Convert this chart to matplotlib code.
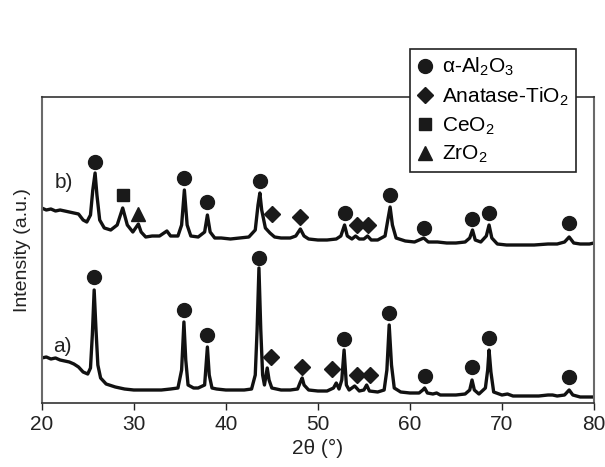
import matplotlib
matplotlib.use("Agg")
import matplotlib.pyplot as plt
from matplotlib.lines import Line2D

plt.rcParams['font.family'] = ['Liberation Sans', 'DejaVu Sans']
plt.rcParams['mathtext.fontset'] = 'custom'
plt.rcParams['mathtext.rm'] = 'Liberation Sans'
plt.rcParams['mathtext.it'] = 'Liberation Sans:italic'
plt.rcParams['mathtext.default'] = 'regular'

# 2θ / intensity (a.u., b) already offset upwards)
two_theta_a = [20.0, 20.5, 21.0, 21.5, 22.0, 22.5, 23.0, 23.5, 24.0, 24.5, 25.0, 25.3, 25.5, 25.7, 25.9,
               26.1, 26.4, 27.0, 28.0, 29.0, 30.0, 31.0, 32.0, 33.0, 34.0, 34.8, 35.2, 35.45, 35.65,
               35.9, 36.5, 37.0, 37.7, 38.0, 38.2, 38.5, 39.0, 40.0, 41.0, 42.0, 42.8, 43.2, 43.4,
               43.6, 43.8, 44.0, 44.2, 44.5, 44.7, 45.0, 46.0, 47.0, 47.8, 48.1, 48.3, 48.5, 49.0,
               50.0, 51.0, 51.7, 52.0, 52.3, 52.6, 52.85, 53.1, 53.4, 54.0, 54.2, 54.5, 55.0, 55.3,
               55.6, 56.5, 57.2, 57.5, 57.75, 58.0, 58.3, 59.0, 60.0, 61.0, 61.4, 61.6, 61.9, 62.5,
               62.9, 63.3, 64.0, 65.0, 66.0, 66.5, 66.75, 67.0, 67.5, 68.2, 68.45, 68.6, 68.8, 69.1,
               70.0, 70.6, 71.2, 72.0, 73.0, 74.0, 75.0, 75.5, 76.0, 76.8, 77.3, 77.7, 78.5, 79.0, 80.0]
intensity_a = [45, 46, 44, 45, 43, 42, 41, 39, 36, 31, 29, 35, 68, 113, 73,
               38, 25, 19, 16, 14, 13, 13, 13, 13, 14, 15, 33, 81, 43,
               18, 15, 15, 18, 56, 28, 15, 14, 13, 13, 13, 14, 28, 73,
               135, 73, 28, 18, 35, 23, 15, 13, 13, 14, 21, 25, 18, 13,
               12, 12, 15, 20, 14, 23, 53, 18, 13, 17, 15, 12, 13, 18,
               12, 11, 13, 33, 78, 38, 15, 11, 10, 10, 13, 15, 10, 9,
               10, 8, 8, 8, 9, 13, 23, 13, 9, 15, 33, 53, 31, 11,
               8, 9, 7, 7, 7, 7, 8, 8, 7, 8, 13, 8, 6, 6, 6]

two_theta_b = [20.0, 20.5, 21.0, 21.5, 22.0, 22.5, 23.0, 23.5, 24.0, 24.5, 24.9, 25.3, 25.55, 25.8,
               26.0, 26.3, 26.8, 27.5, 28.2, 28.8, 29.3, 29.9, 30.2, 30.5, 30.8, 31.3, 32.0, 32.8,
               33.6, 34.0, 34.8, 35.2, 35.5, 35.8, 36.2, 37.0, 37.7, 38.0, 38.3, 38.8, 39.5, 40.5,
               41.5, 42.5, 43.2, 43.5, 43.7, 43.9, 44.3, 44.8, 45.3, 46.0, 47.0, 47.6, 48.1, 48.5,
               49.0, 50.0, 51.0, 52.0, 52.5, 52.9, 53.2, 53.7, 54.1, 54.5, 55.0, 55.4, 55.8, 56.5,
               57.3, 57.6, 57.85, 58.1, 58.5, 59.5, 60.5, 61.5, 62.0, 63.0, 64.0, 65.0, 66.0, 66.5,
               66.8, 67.1, 67.7, 68.3, 68.6, 68.9, 69.5, 70.5, 72.0, 73.5, 75.0, 76.0, 76.8, 77.3,
               77.8, 78.5, 79.5, 80.0]
intensity_b = [195, 193, 194, 192, 193, 192, 191, 190, 189, 183, 181, 188, 213, 230,
               208, 183, 175, 173, 178, 195, 178, 171, 175, 179, 171, 166, 167, 167,
               172, 167, 167, 178, 213, 178, 167, 166, 171, 188, 171, 165, 165, 164,
               165, 166, 173, 198, 210, 193, 175, 170, 166, 165, 165, 167, 174, 167,
               164, 163, 163, 164, 167, 178, 167, 164, 167, 164, 164, 167, 163, 163,
               167, 183, 196, 178, 165, 162, 161, 165, 161, 161, 160, 160, 161, 165,
               173, 163, 161, 167, 178, 165, 159, 158, 158, 158, 159, 159, 161, 166,
               160, 159, 159, 160]

# phase markers: peak position and marker height
al2o3_a_pos = [25.7, 35.45, 38.0, 43.6, 52.85, 57.75, 61.6, 66.75, 68.6, 77.3]
al2o3_a_h = [126, 93, 68, 145, 64, 90, 27, 36, 65, 26]
tio2_a_pos = [44.9, 48.3, 51.5, 54.2, 55.7]
tio2_a_h = [46, 36, 34, 28, 28]

al2o3_b_pos = [25.8, 35.5, 38.0, 43.7, 52.9, 57.85, 61.5, 66.8, 68.6, 77.3]
al2o3_b_h = [241, 225, 201, 222, 190, 208, 175, 184, 190, 180]
tio2_b_pos = [45.0, 48.1, 54.2, 55.5]
tio2_b_h = [189, 186, 178, 178]
ceo2_b_pos = [28.8]
ceo2_b_h = [208]
zro2_b_pos = [30.5]
zro2_b_h = [189]

LINE = '#111111'
MK = '#1a1a1a'

fig = plt.figure(figsize=(6.05, 4.67), dpi=100)
ax = fig.add_axes([41.7 / 605, 1 - 403 / 467, (594 - 41.7) / 605, (403 - 97) / 467])

ax.plot(two_theta_a, intensity_a, color=LINE, lw=2.4)
ax.plot(two_theta_b, intensity_b, color=LINE, lw=2.4)

ax.plot(al2o3_a_pos + al2o3_b_pos, al2o3_a_h + al2o3_b_h, 'o', ms=10, color=MK, ls='none')
ax.plot(tio2_a_pos + tio2_b_pos, tio2_a_h + tio2_b_h, 'D', ms=8.5, color=MK, ls='none')
ax.plot(ceo2_b_pos, ceo2_b_h, 's', ms=9, color=MK, ls='none')
ax.plot(zro2_b_pos, zro2_b_h, '^', ms=10, color=MK, ls='none')

ax.text(21.45, 220, 'b)', fontsize=15, va='center', ha='left', color='#222222')
ax.text(21.2, 56, 'a)', fontsize=15, va='center', ha='left', color='#222222')

ax.set_xlim(20, 80)
ax.set_ylim(0, 306)
ax.set_xticks(range(20, 81, 10))
ax.set_yticks([])
ax.tick_params(axis='x', direction='out', length=5, width=1, labelsize=15, pad=4, colors='#222222')
ax.set_xlabel('2θ (°)', fontsize=15, labelpad=3, color='#222222')
ax.set_ylabel('Intensity (a.u.)', fontsize=14, labelpad=8, color='#222222')

for side in ['left', 'right']:
    ax.spines[side].set_color('#6a6a6a')
    ax.spines[side].set_linewidth(1.5)
for side in ['top', 'bottom']:
    ax.spines[side].set_color('#333333')
    ax.spines[side].set_linewidth(1.2)

handles = [
    Line2D([], [], marker='o', ms=10, color=MK, ls='none'),
    Line2D([], [], marker='D', ms=8.5, color=MK, ls='none'),
    Line2D([], [], marker='s', ms=9, color=MK, ls='none'),
    Line2D([], [], marker='^', ms=10, color=MK, ls='none'),
]
labels = [r'α-Al$_2$O$_3$', r'Anatase-TiO$_2$', r'CeO$_2$', r'ZrO$_2$']
leg = ax.legend(handles, labels, loc='upper left',
                bbox_to_anchor=(409.6 / 605, 1 - 48.8 / 467), bbox_transform=fig.transFigure,
                borderaxespad=0, fancybox=False, framealpha=1, edgecolor='#222222',
                fontsize=15, handlelength=0.8, handletextpad=0.4, labelspacing=0.35,
                borderpad=0.35)
leg.get_frame().set_linewidth(1.2)

plt.savefig('out.png', dpi=100)
plt.close()
